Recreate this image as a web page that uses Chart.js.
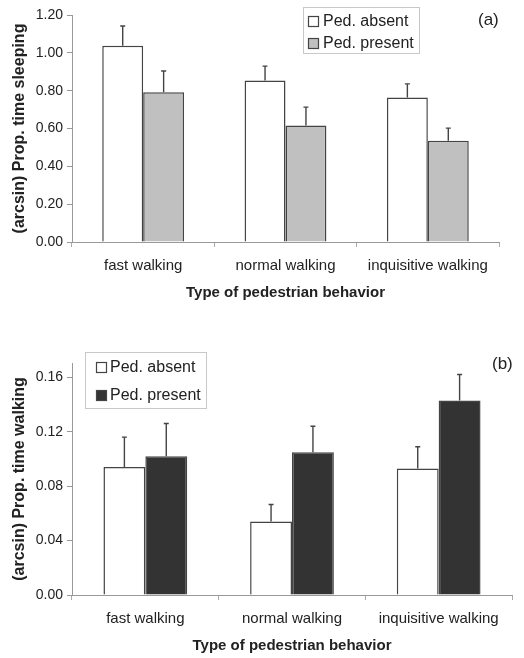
<!DOCTYPE html>
<html><head><meta charset="utf-8">
<script src="https://cdn.jsdelivr.net/npm/chart.js@4"></script>
<style>
html,body{margin:0;padding:0;background:#fff;}
#wa{position:absolute;left:0;top:0;width:524px;height:310px;}
#wb{position:absolute;left:0;top:320px;width:524px;height:338px;}
</style></head><body>
<div id="wa"><canvas id="ca"></canvas></div>
<div id="wb"><canvas id="cb"></canvas></div>
<script>
// ---- data ----
const categories = ['fast walking', 'normal walking', 'inquisitive walking'];
const seriesNames = ['Ped. absent', 'Ped. present'];
const sleepAbsent = [1.037, 0.854, 0.764];
const sleepAbsentSE = [0.105, 0.076, 0.072];
const sleepPresent = [0.791, 0.616, 0.535];
const sleepPresentSE = [0.113, 0.097, 0.067];
const walkAbsent = [0.094, 0.054, 0.093];
const walkAbsentSE = [0.022, 0.0125, 0.016];
const walkPresent = [0.102, 0.105, 0.143];
const walkPresentSE = [0.024, 0.019, 0.019];
const sleepTicks = [0, 0.2, 0.4, 0.6, 0.8, 1.0, 1.2];
const walkTicks = [0, 0.04, 0.08, 0.12, 0.16];
const xTitle = 'Type of pedestrian behavior';
const yTitleA = '(arcsin) Prop. time sleeping';
const yTitleB = '(arcsin) Prop. time walking';

const FONT = "'Liberation Sans', Arial, sans-serif";
const TXT = '#222';
Chart.defaults.font.family = FONT;
Chart.defaults.color = TXT;

const errorBars = {
  id: 'errorBars',
  afterDatasetsDraw(chart) {
    const ctx = chart.ctx, y = chart.scales.y;
    chart.data.datasets.forEach((ds, di) => {
      if (!ds.errors) return;
      const meta = chart.getDatasetMeta(di);
      meta.data.forEach((bar, i) => {
        const top = y.getPixelForValue(ds.data[i] + ds.errors[i]);
        ctx.save();
        ctx.strokeStyle = '#444';
        ctx.lineWidth = 1.4;
        ctx.beginPath();
        ctx.moveTo(bar.x, bar.y);
        ctx.lineTo(bar.x, top);
        ctx.moveTo(bar.x - 2.5, top);
        ctx.lineTo(bar.x + 2.5, top);
        ctx.stroke();
        ctx.restore();
      });
    });
  }
};

const boxLegend = {
  id: 'boxLegend',
  afterDraw(chart, args, o) {
    if (!o || !o.box) return;
    const ctx = chart.ctx;
    ctx.save();
    ctx.fillStyle = '#fff';
    ctx.strokeStyle = '#c8c8c8';
    ctx.lineWidth = 1;
    ctx.fillRect(o.box[0], o.box[1], o.box[2], o.box[3]);
    ctx.strokeRect(o.box[0] + 0.5, o.box[1] + 0.5, o.box[2], o.box[3]);
    ctx.font = '16px ' + FONT;
    ctx.textBaseline = 'middle';
    chart.data.datasets.forEach((ds, i) => {
      const yy = o.rows[i];
      ctx.fillStyle = ds.backgroundColor;
      ctx.fillRect(o.sx, yy - 5, 10, 10);
      ctx.strokeStyle = '#444';
      ctx.lineWidth = 1.2;
      ctx.strokeRect(o.sx + 0.5, yy - 5 + 0.5, 10, 10);
      ctx.fillStyle = TXT;
      ctx.fillText(ds.label, o.tx, yy + 1);
    });
    ctx.font = '17px ' + FONT;
    ctx.textAlign = 'left';
    ctx.fillText(o.panel, o.px, o.py);
    ctx.restore();
  }
};

function makeChart(id, absent, absentSE, present, presentSE, presentColor, ticks, maxV, yTitle, decimals, pads, legendOpts, catPct) {
  return new Chart(document.getElementById(id), {
    type: 'bar',
    data: {
      labels: categories,
      datasets: [
        { label: seriesNames[0], data: absent, errors: absentSE, backgroundColor: '#ffffff',
          borderColor: '#444', borderWidth: 1.5 },
        { label: seriesNames[1], data: present, errors: presentSE, backgroundColor: presentColor,
          borderColor: '#444', borderWidth: 1.5 }
      ]
    },
    options: {
      responsive: true, maintainAspectRatio: false, animation: false, devicePixelRatio: 1,
      layout: { padding: pads },
      datasets: { bar: { categoryPercentage: catPct, barPercentage: 1.0 } },
      plugins: { legend: { display: false }, tooltip: { enabled: false }, boxLegend: legendOpts },
      scales: {
        x: {
          afterFit(s) { s.height = 60; },
          grid: { drawOnChartArea: false, drawTicks: true, tickLength: 5, offset: true, color: '#aaa' },
          border: { color: '#999', width: 1 },
          ticks: { font: { size: 15 }, color: TXT, padding: 10 },
          title: { display: true, text: xTitle, font: { size: 15, weight: 'bold' }, color: TXT, padding: { top: 0, bottom: 0 } }
        },
        y: {
          min: 0, max: maxV,
          afterFit(s) { s.width = 72; },
          afterBuildTicks(s) { s.ticks = ticks.map(v => ({ value: v })); },
          grid: { drawOnChartArea: false, drawTicks: true, tickLength: 5, color: '#999' },
          border: { color: '#999', width: 1 },
          ticks: { font: { size: 14 }, color: TXT, padding: 4, callback: v => Number(v).toFixed(2) },
          title: { display: true, text: yTitle, font: { size: 16, weight: 'bold' }, color: TXT, padding: { top: 10, bottom: 0 } }
        }
      }
    },
    plugins: [errorBars, boxLegend]
  });
}

makeChart('ca', sleepAbsent, sleepAbsentSE, sleepPresent, sleepPresentSE, '#c0c0c0', sleepTicks, 1.2, yTitleA, 2,
  { top: 15, right: 25, bottom: 8, left: 0 },
  { box: [303, 7, 116, 46], rows: [21, 43], sx: 308, tx: 323, panel: '(a)', px: 478, py: 20 }, 0.575);

makeChart('cb', walkAbsent, walkAbsentSE, walkPresent, walkPresentSE, '#333333', walkTicks, 0.1705, yTitleB, 2,
  { top: 43, right: 12, bottom: 3, left: 0 },
  { box: [85, 32, 121, 56], rows: [47, 75], sx: 96, tx: 110, panel: '(b)', px: 492, py: 44 }, 0.571);
</script>
</body></html>
